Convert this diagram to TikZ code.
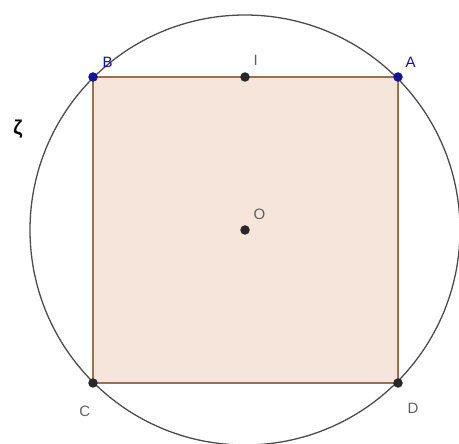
\documentclass[tikz,border=0pt]{standalone}
\usepackage{fontspec}
\setmainfont{Liberation Sans}
\usetikzlibrary{positioning,calc}
\definecolor{sqfill}{RGB}{245,229,219}
\definecolor{sqedge}{RGB}{160,110,75}
\definecolor{ptblue}{RGB}{20,20,150}
\definecolor{ptgray}{RGB}{40,40,40}
\definecolor{lblgray}{RGB}{95,95,95}

\begin{document}
\begin{tikzpicture}[
  x=1pt, y=-1pt,
  font=\fontsize{15}{17}\selectfont,
  pt/.style={circle, fill=#1, inner sep=0pt, minimum size=9.5pt},
  lbl/.style={text=#1, inner sep=1pt},
  side/.style={draw=sqedge, line width=1.6pt},
  circ/.style={draw=black!70, line width=1.3pt}
]
  \useasboundingbox (0,0) rectangle (459,444);

  % Points
  \coordinate (o) at (245,230);
  \coordinate (b) at (93,77);
  \coordinate (a) at (398,77);
  \coordinate (c) at (93,383);
  \coordinate (d) at (398,383);
  \coordinate (i) at (245,77);

  % Square
  \fill[sqfill] (b) -- (a) -- (d) -- (c) -- cycle;
  \draw[side] (b) -- (i) -- (a) -- (d) -- (c) -- cycle;

  % Circle zeta
  \draw[circ] (o) circle (215);

  % Point markers
  \foreach \p/\c in {o/ptgray,b/ptblue,a/ptblue,c/ptgray,d/ptgray,i/ptgray}
    \node[pt=\c] (\p-pt) at (\p) {};

  % Labels
  \node[lbl=ptblue, above right=5pt and 5pt of b-pt] (b-lbl) {B};
  \node[lbl=ptblue, above right=5pt and 3pt of a-pt] (a-lbl) {A};
  \node[lbl=lblgray, above right=7pt and 4pt of i-pt] (i-lbl) {I};
  \node[lbl=lblgray, above right=6pt and 4pt of o-pt] (o-lbl) {O};
  \node[lbl=lblgray, below left=18pt and -2pt of c-pt] (c-lbl) {C};
  \node[lbl=lblgray, below right=15pt and 5pt of d-pt] (d-lbl) {D};
  \node[lbl=black, font=\fontsize{20}{22}\selectfont\bfseries] (zeta) at (18,129) {ζ};
\end{tikzpicture}
\end{document}
